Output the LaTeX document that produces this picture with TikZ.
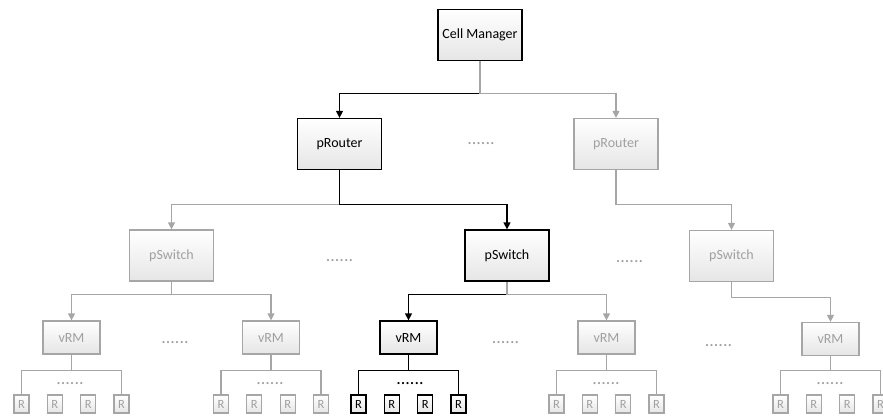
\documentclass[tikz,border=0pt]{standalone}
\usepackage{fontspec}
\setmainfont{Carlito}
\usetikzlibrary{arrows.meta,calc}
\definecolor{lg}{HTML}{A6A6A6}
\definecolor{lgtext}{HTML}{A0A0A0}
\tikzset{
  box/.style={draw=lg, line width=1.3pt, top color=white, bottom color=black!10,
    text=lgtext, font=\fontsize{14}{16}\selectfont,
    minimum width=84pt, minimum height=51pt, inner sep=0pt},
  act/.style={draw=black, text=black},
  plain/.style={},
  vbox/.style={box, minimum width=57pt, minimum height=33pt},
  rbox/.style={box, minimum width=15pt, minimum height=18pt,
    font=\fontsize{12.5}{14}\selectfont, line width=1.1pt},
  gl/.style={draw=lg, line width=1.3pt},
  bl/.style={draw=black, line width=1.3pt},
  arr/.style={-{Triangle[width=7pt,length=7pt]}},
  dots/.style={text=lgtext, font=\fontsize{18}{18}\selectfont, inner sep=0pt, anchor=base},
}
\begin{document}
\begin{tikzpicture}[x=1pt,y=-1pt]
\path[use as bounding box] (0,0) rectangle (883,416);
\clip (0,0) rectangle (883,416);

% main nodes
\node[box,act] (cm)  at (480,35)    {Cell Manager};
\node[box,act] (pr1) at (339.5,144) {pRouter};
\node[box]     (pr2) at (616,144)   {pRouter};
\node[box]     (ps1) at (171.5,255.5) {pSwitch};
\node[box,act] (ps2) at (507,255.5)   {pSwitch};
\node[box]     (ps3) at (731.5,256)   {pSwitch};
\node[vbox]     (v1) at (71.5,337.5)  {vRM};
\node[vbox]     (v2) at (271,337.5)   {vRM};
\node[vbox,act] (v3) at (408.5,337.5) {vRM};
\node[vbox]     (v4) at (606.5,337.5) {vRM};
\node[vbox]     (v5) at (830.5,339)   {vRM};

% R nodes and their connectors
\foreach \v/\x/\s/\ln in {v1/71.5/plain/gl, v2/271/plain/gl, v3/408.5/act/bl, v4/606.5/plain/gl, v5/830.5/plain/gl} {
  \foreach \i/\dx in {1/-50, 2/-16.7, 3/16.7, 4/50} {
    \node[rbox,\s] (\v r\i) at (\x+\dx,404) {R};
  }
  \coordinate (\v h) at ($(\v r1.north)+(0,-24)$);
  \draw[\ln] (\v r1.north) -- (\v h) -| (\v r4.north);
  \draw[\ln] (\v.south) -- (\v.south |- \v h);
}

% connectors
\draw[bl,arr] ($(cm.south)+(0,32)$) -| (pr1.north);
\draw[gl,arr] (cm.south) -- ++(0,32) -| (pr2.north);

\draw[gl,arr] ($(pr1.south)+(0,34)$) -| (ps1.north);
\draw[bl,arr] (pr1.south) -- ++(0,34) -| (ps2.north);
\draw[gl,arr] (pr2.south) -- ++(0,34) -| (ps3.north);

\draw[gl,arr] (ps1.south) -- ++(0,13) -| (v1.north);
\draw[gl,arr] (ps1.south) -- ++(0,13) -| (v2.north);
\draw[bl,arr] ($(ps2.south)+(0,13)$) -| (v3.north);
\draw[gl,arr] (ps2.south) -- ++(0,13) -| (v4.north);
\draw[gl,arr] (ps3.south) -- ++(0,15) -| (v5.north);

% ellipsis dots
\node[dots] (d1) at (481,144) {......};
\node[dots] (d2) at (339.5,261) {......};
\node[dots] (d3) at (629.5,262) {......};
\node[dots] (d4) at (175,343) {......};
\node[dots] (d5) at (505.5,343) {......};
\node[dots] (d6) at (718.5,346) {......};
\node[dots] (g1) at (70,384) {......};
\node[dots] (g2) at (270,384) {......};
\node[dots,text=black] (g3) at (410,384) {......};
\node[dots] (g4) at (606,384) {......};
\node[dots] (g5) at (830,384) {......};
\end{tikzpicture}
\end{document}
